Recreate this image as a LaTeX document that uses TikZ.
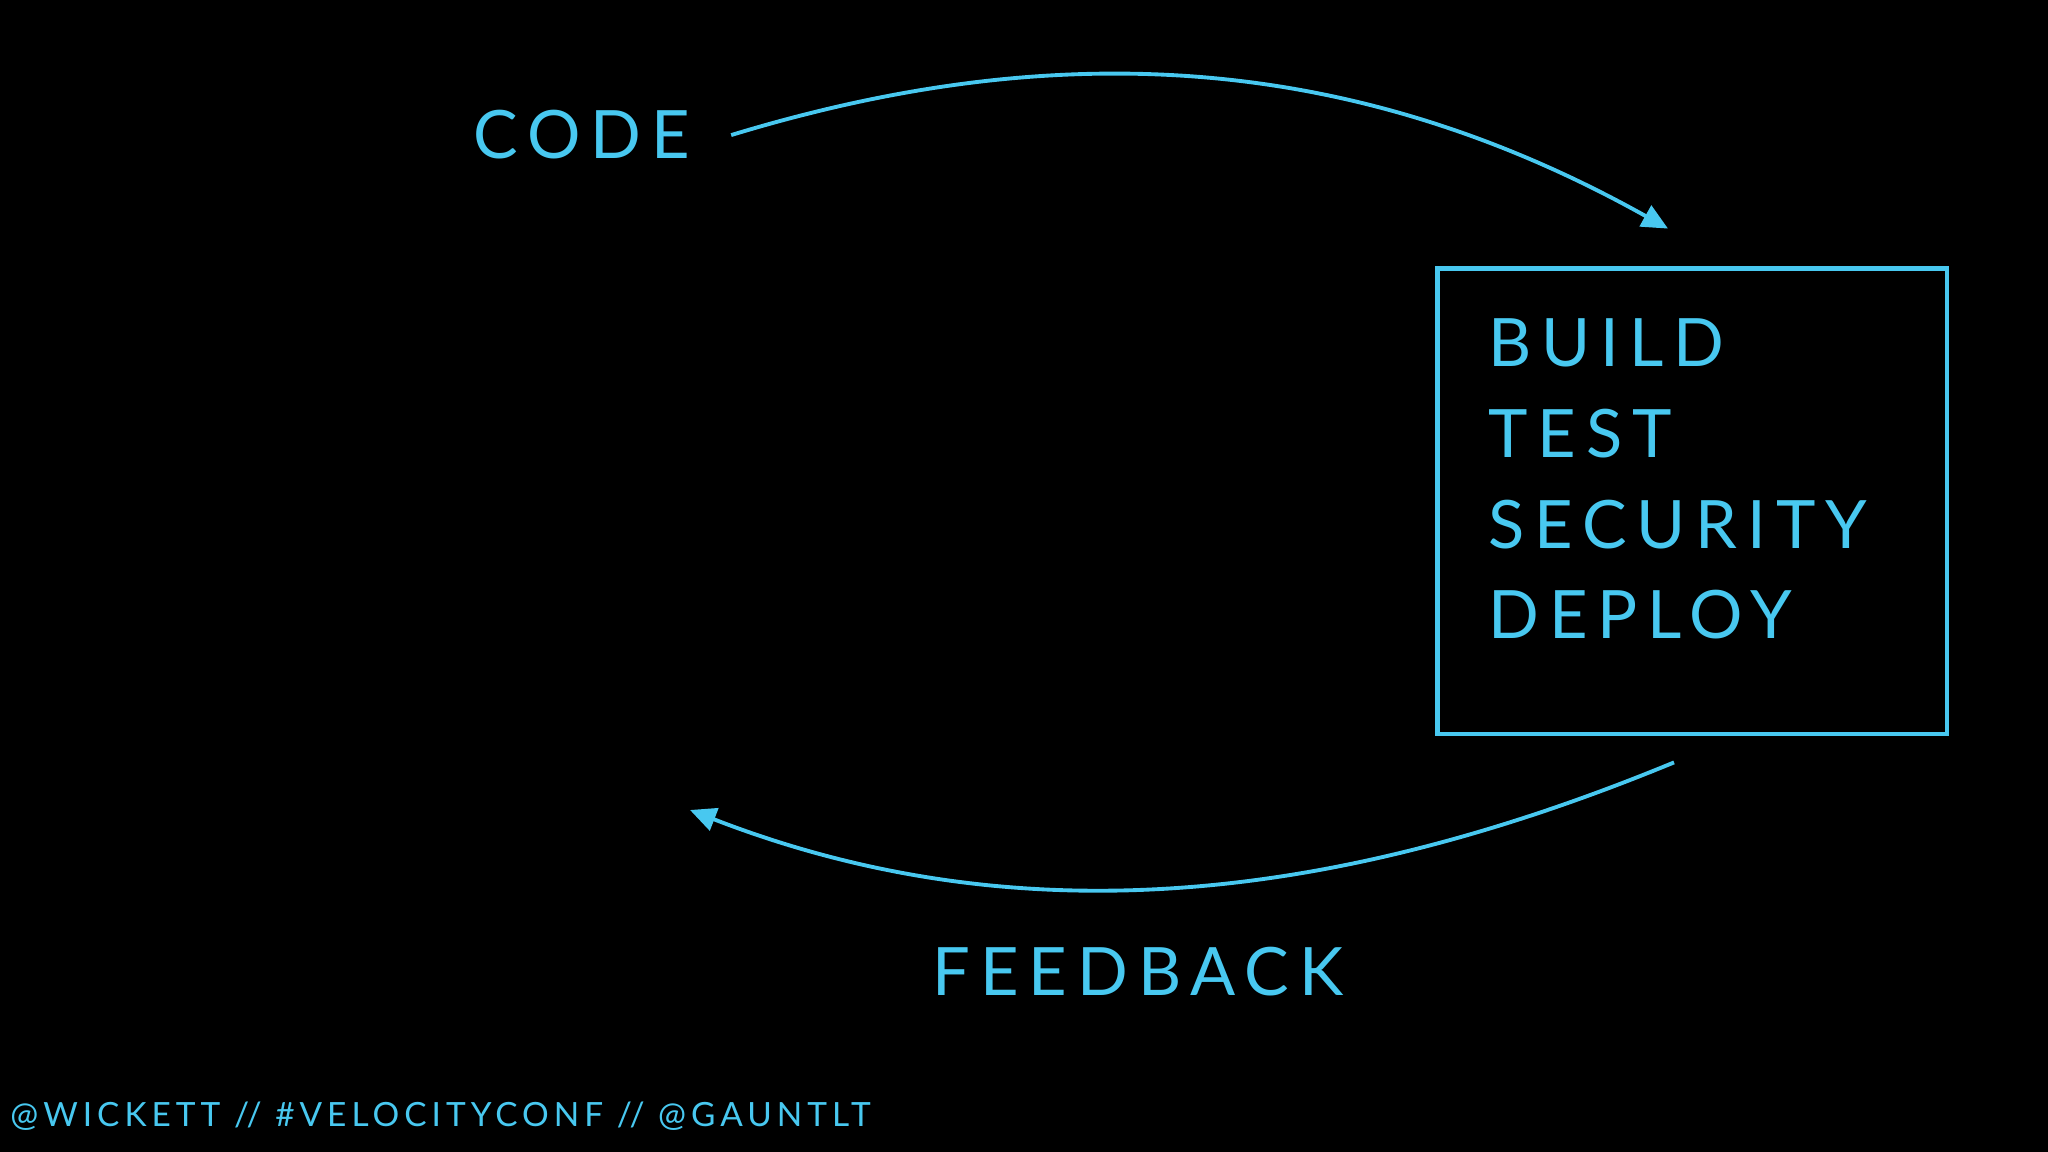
\documentclass[tikz,border=0pt]{standalone}
\usepackage{fontspec}
\usetikzlibrary{arrows.meta}
\newfontfamily\slidefont{Lato}[LetterSpace=15]
\definecolor{chalkblue}{RGB}{72,200,240}

\begin{document}
\begin{tikzpicture}[x=0.02cm, y=-0.02cm,
				word/.style={text=chalkblue, font=\slidefont\fontsize{38}{46}\selectfont, inner sep=0pt, anchor=base west},
				stage/.style={rectangle, draw=chalkblue, line width=2.8pt, minimum width=10.2cm, minimum height=9.32cm},
				loop/.style={chalkblue, line width=2.2pt, -{Triangle[length=0.52cm, width=0.47cm]}},
				footer/.style={text=chalkblue, font=\slidefont\fontsize{19}{23}\selectfont, inner sep=0pt, anchor=base west}]
	\fill[black] (0,0) rectangle (2048,1152);
	\node[word] (code) at (473,159) {CODE};
	\node[stage] (box) at (1692,501) {};
	\node[word] (build) at (1488,366) {BUILD};
	\node[word] (test) at (1488,457) {TEST};
	\node[word] (security) at (1488,548) {SECURITY};
	\node[word] (deploy) at (1488,638) {DEPLOY};
	\node[word] (feedback) at (932,995) {FEEDBACK};
	\node[footer] (tags) at (10,1126) {@WICKETT // \#VELOCITYCONF // @GAUNTLT};
	\coordinate (fbtip) at (690,810);
	\draw[loop] ([xshift=0.82cm]code.east) .. controls (1040,41) and (1340,45) .. ([xshift=-0.48cm, yshift=0.74cm]box.north);
	\draw[loop] ([xshift=-0.36cm, yshift=-0.52cm]box.south) .. controls (1343,899) and (1025,940) .. (fbtip);
\end{tikzpicture}
\end{document}
